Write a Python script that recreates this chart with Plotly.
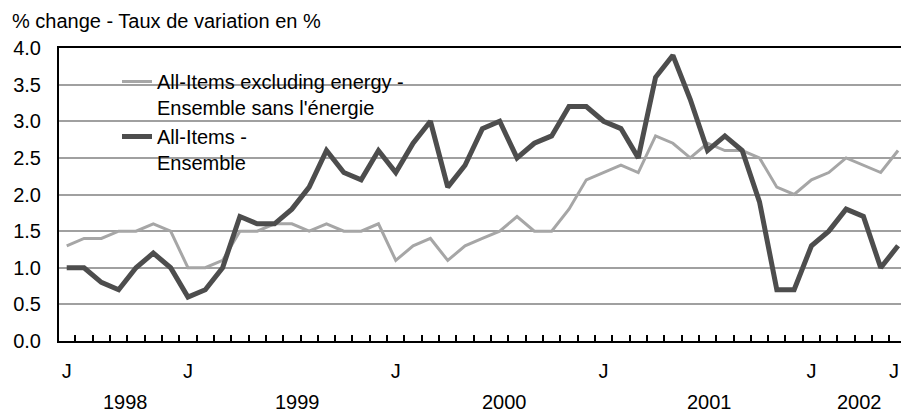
import plotly.graph_objects as go

# ---- data -----------------------------------------------------------------
months = [
    "Jun 1998", "Jul 1998", "Aug 1998", "Sep 1998", "Oct 1998", "Nov 1998", "Dec 1998",
    "Jan 1999", "Feb 1999", "Mar 1999", "Apr 1999", "May 1999", "Jun 1999",
    "Jul 1999", "Aug 1999", "Sep 1999", "Oct 1999", "Nov 1999", "Dec 1999",
    "Jan 2000", "Feb 2000", "Mar 2000", "Apr 2000", "May 2000", "Jun 2000",
    "Jul 2000", "Aug 2000", "Sep 2000", "Oct 2000", "Nov 2000", "Dec 2000",
    "Jan 2001", "Feb 2001", "Mar 2001", "Apr 2001", "May 2001", "Jun 2001",
    "Jul 2001", "Aug 2001", "Sep 2001", "Oct 2001", "Nov 2001", "Dec 2001",
    "Jan 2002", "Feb 2002", "Mar 2002", "Apr 2002", "May 2002", "Jun 2002",
]

all_items = [
    1.0, 1.0, 0.8, 0.7, 1.0, 1.2, 1.0,
    0.6, 0.7, 1.0, 1.7, 1.6, 1.6, 1.8, 2.1, 2.6, 2.3, 2.2, 2.6,
    2.3, 2.7, 3.0, 2.1, 2.4, 2.9, 3.0, 2.5, 2.7, 2.8, 3.2, 3.2,
    3.0, 2.9, 2.5, 3.6, 3.9, 3.3, 2.6, 2.8, 2.6, 1.9, 0.7, 0.7,
    1.3, 1.5, 1.8, 1.7, 1.0, 1.3,
]

excl_energy = [
    1.3, 1.4, 1.4, 1.5, 1.5, 1.6, 1.5,
    1.0, 1.0, 1.1, 1.5, 1.5, 1.6, 1.6, 1.5, 1.6, 1.5, 1.5, 1.6,
    1.1, 1.3, 1.4, 1.1, 1.3, 1.4, 1.5, 1.7, 1.5, 1.5, 1.8, 2.2,
    2.3, 2.4, 2.3, 2.8, 2.7, 2.5, 2.7, 2.6, 2.6, 2.5, 2.1, 2.0,
    2.2, 2.3, 2.5, 2.4, 2.3, 2.6,
]

series_names = [
    "All-Items excluding energy -<br>Ensemble sans l'énergie",
    "All-Items -<br>Ensemble",
]

tick_months = ["Jun 1998", "Jan 1999", "Jan 2000", "Jan 2001", "Jan 2002", "Jun 2002"]
tick_labels = ["J", "J", "J", "J", "J", "J"]

year_labels = ["1998", "1999", "2000", "2001", "2002"]
year_label_pos = [3.4, 13.3, 25.3, 37.1, 45.8]  # label placement (month index units)

y_ticks = [0.0, 0.5, 1.0, 1.5, 2.0, 2.5, 3.0, 3.5, 4.0]
title_text = "% change - Taux de variation en %"

# ---- figure ---------------------------------------------------------------
FONT = "Liberation Sans, Arial, Helvetica, sans-serif"
FS = 20
x = list(range(len(months)))
X_MAX = 48.17
# keep the last month label fully inside the page edge
tick_pos = [min(months.index(m), X_MAX - 0.4) for m in tick_months]

fig = go.Figure()
fig.add_trace(go.Scatter(
    x=x, y=excl_energy, mode="lines", name=series_names[0],
    customdata=months, hovertemplate="%{customdata}: %{y:.1f}<extra></extra>",
    line=dict(color="#a6a6a6", width=3),
))
fig.add_trace(go.Scatter(
    x=x, y=all_items, mode="lines", name=series_names[1],
    customdata=months, hovertemplate="%{customdata}: %{y:.1f}<extra></extra>",
    line=dict(color="#4d4d4d", width=5),
))

W, H = 901, 413
L, R, T, B = 59, 0, 48, 72
pw, ph = W - L - R, H - T - B


def px_x(p):
    return (p - L) / pw


def px_y(p):
    return (H - B - p) / ph


fig.update_layout(
    width=W, height=H,
    margin=dict(l=L, r=R, t=T, b=B, pad=0, autoexpand=False),
    paper_bgcolor="white", plot_bgcolor="white",
    font=dict(family=FONT, size=FS, color="black"),
    title=dict(text=title_text, xref="container", yref="container",
               x=12 / W, xanchor="left", y=1 - 21 / H, yanchor="middle",
               font=dict(family=FONT, size=FS, color="black")),
    showlegend=True,
    legend=dict(x=px_x(117), xanchor="left", y=px_y(62), yanchor="top",
                bgcolor="rgba(0,0,0,0)", valign="top",
                font=dict(family=FONT, size=FS, color="black"),
                tracegroupgap=0),
    xaxis=dict(
        range=[-0.445, X_MAX], automargin=False,
        showgrid=False, zeroline=False,
        showline=True, linecolor="black", linewidth=2, mirror=True,
        tickmode="array",
        tickvals=tick_pos,
        ticktext=tick_labels,
        ticks="", ticklabelstandoff=11, ticklabeloverflow="allow",
        minor=dict(tick0=0.5, dtick=1, ticks="inside", ticklen=6,
                   tickcolor="black", tickwidth=1.5, showgrid=False),
    ),
    yaxis=dict(
        range=[0, 4], automargin=False,
        tickmode="array", tickvals=y_ticks, tickformat=".1f",
        showgrid=True, gridcolor="#a0a0a0", gridwidth=1.5,
        zeroline=False,
        showline=True, linecolor="black", linewidth=2,
        ticks="", ticklabelstandoff=12,
    ),
    shapes=[dict(type="rect", xref="paper", yref="paper",
                 x0=px_x(72), x1=px_x(447), y0=px_y(185), y1=px_y(58),
                 fillcolor="white", line=dict(width=0), layer="between")],
)

for lab, pos in zip(year_labels, year_label_pos):
    fig.add_annotation(text=lab, x=pos, xref="x", y=px_y(402), yref="paper",
                       yanchor="middle", xanchor="center", showarrow=False,
                       font=dict(family=FONT, size=FS, color="black"))

fig.write_html("out.html",
               config={"displayModeBar": False},
               post_script="document.body.style.margin='0px';document.body.style.overflow='hidden';")
